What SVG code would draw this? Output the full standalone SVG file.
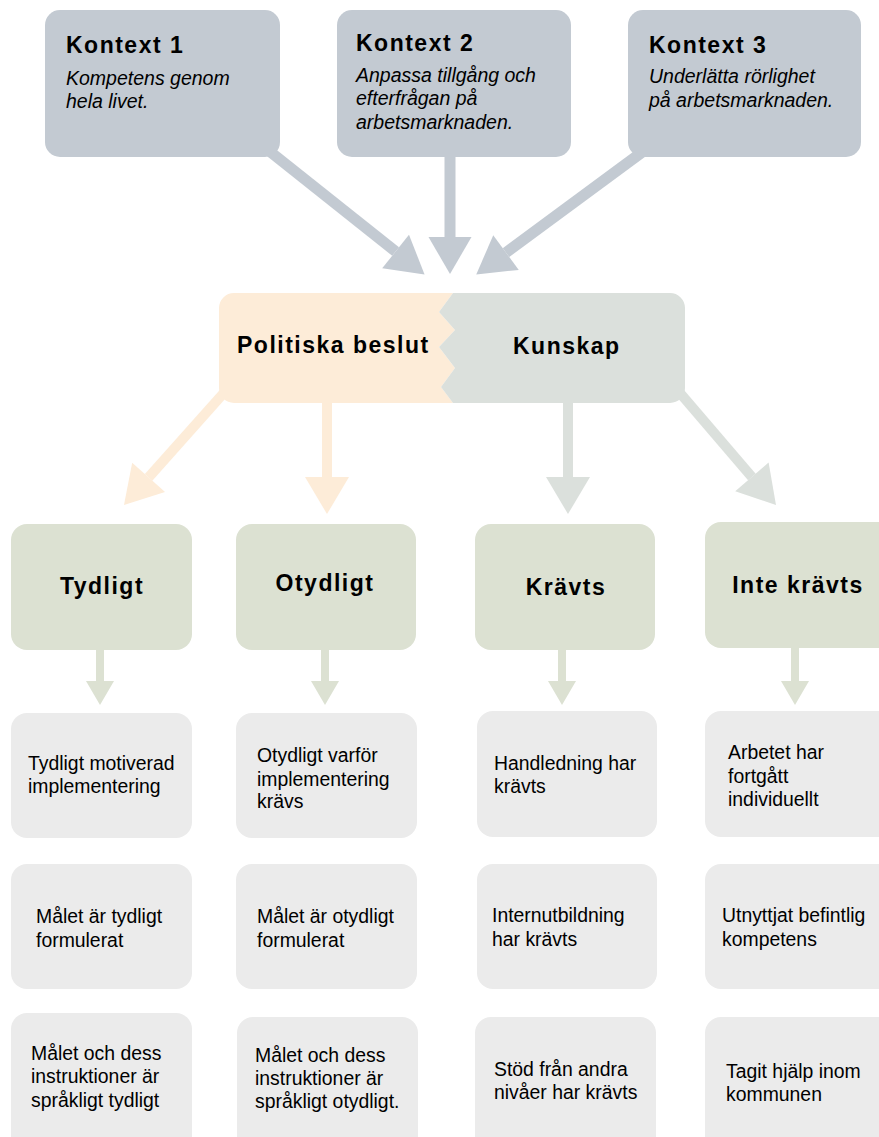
<svg xmlns="http://www.w3.org/2000/svg" width="879" height="1137" viewBox="0 0 879 1137">
<style>
text{font-family:"Liberation Sans",Arial,Helvetica,sans-serif;fill:#000}
.t{font-size:23px;font-weight:bold;letter-spacing:1.5px}
.i{font-size:19.5px;font-style:italic}
.r{font-size:19.4px}
.ctx{fill:#c3cad2}
.l2{fill:#dce1d2}
.l3{fill:#ebebeb}
.ac{stroke:#c3cad2;stroke-width:11;fill:none}
.ap{stroke:#fdecd8;stroke-width:10;fill:none}
.ag{stroke:#dbe0dc;stroke-width:10;fill:none}
.as{stroke:#dce1d2;stroke-width:8;fill:none}
</style>
<defs>
<marker id="mc" markerUnits="userSpaceOnUse" markerWidth="38" markerHeight="44" refX="0" refY="21.5" orient="auto" overflow="visible"><path d="M0,0 L37,21.5 L0,43 Z" fill="#c3cad2"/></marker>
<marker id="mp" markerUnits="userSpaceOnUse" markerWidth="38" markerHeight="44" refX="0" refY="22" orient="auto" overflow="visible"><path d="M0,0 L37,22 L0,44 Z" fill="#fdecd8"/></marker>
<marker id="mg" markerUnits="userSpaceOnUse" markerWidth="38" markerHeight="44" refX="0" refY="22" orient="auto" overflow="visible"><path d="M0,0 L37,22 L0,44 Z" fill="#dbe0dc"/></marker>
<marker id="ms" markerUnits="userSpaceOnUse" markerWidth="25" markerHeight="28" refX="0" refY="14" orient="auto" overflow="visible"><path d="M0,0 L24,14 L0,28 Z" fill="#dce1d2"/></marker>
</defs>
<g id="connectors">
<line class="ac" x1="268" y1="150" x2="395.6" y2="251.5" marker-end="url(#mc)"/>
<line class="ac" x1="450" y1="150" x2="450" y2="237" marker-end="url(#mc)"/>
<line class="ac" x1="645" y1="150" x2="506" y2="252.6" marker-end="url(#mc)"/>
<line class="ap" x1="230" y1="386" x2="148.6" y2="477.4" marker-end="url(#mp)"/>
<line class="ap" x1="327" y1="398" x2="327" y2="477" marker-end="url(#mp)"/>
<line class="ag" x1="568" y1="398" x2="568" y2="477" marker-end="url(#mg)"/>
<line class="ag" x1="674" y1="386" x2="751.9" y2="476.9" marker-end="url(#mg)"/>
<line class="as" x1="100" y1="645" x2="100" y2="681" marker-end="url(#ms)"/>
<line class="as" x1="325" y1="645" x2="325" y2="681" marker-end="url(#ms)"/>
<line class="as" x1="562" y1="645" x2="562" y2="681" marker-end="url(#ms)"/>
<line class="as" x1="795" y1="643" x2="795" y2="681" marker-end="url(#ms)"/>
</g>
<g id="kontext1"><rect class="ctx" x="45" y="10" width="235" height="147" rx="15"/>
<text class="t" x="66" y="53">Kontext 1</text>
<text class="i" x="66" y="85">Kompetens genom</text>
<text class="i" x="66" y="108">hela livet.</text></g>
<g id="kontext2"><rect class="ctx" x="337" y="10" width="234" height="147" rx="15"/>
<text class="t" x="356" y="51">Kontext 2</text>
<text class="i" x="356" y="82">Anpassa tillgång och</text>
<text class="i" x="356" y="105">efterfrågan på</text>
<text class="i" x="356" y="129">arbetsmarknaden.</text></g>
<g id="kontext3"><rect class="ctx" x="628" y="10" width="233" height="147" rx="15"/>
<text class="t" x="649" y="53">Kontext 3</text>
<text class="i" x="649" y="83">Underlätta rörlighet</text>
<text class="i" x="649" y="107">på arbetsmarknaden.</text></g>
<g id="politiska-beslut">
<path d="M453,293 L234,293 A15,15 0 0 0 219,308 L219,388 A15,15 0 0 0 234,403 L453,403 L441,387 L455,368 L439,347 L455,330 L439,312 Z" fill="#fdecd8"/>
<text class="t" x="237" y="353">Politiska beslut</text></g>
<g id="kunskap">
<path d="M453,293 L670,293 A15,15 0 0 1 685,308 L685,388 A15,15 0 0 1 670,403 L453,403 L441,387 L455,368 L439,347 L455,330 L439,312 Z" fill="#dbe0dc"/>
<text class="t" x="513" y="354">Kunskap</text></g>
<g id="tydligt"><rect class="l2" x="11" y="524" width="181" height="126" rx="16"/>
<text class="t" x="102" y="594" text-anchor="middle">Tydligt</text></g>
<g id="otydligt"><rect class="l2" x="236" y="524" width="180" height="126" rx="16"/>
<text class="t" x="325" y="591" text-anchor="middle">Otydligt</text></g>
<g id="kravts"><rect class="l2" x="475" y="524" width="180" height="126" rx="16"/>
<text class="t" x="566" y="595" text-anchor="middle">Krävts</text></g>
<g id="inte-kravts"><rect class="l2" x="705" y="522" width="190" height="126" rx="16"/>
<text class="t" x="798" y="593" text-anchor="middle">Inte krävts</text></g>
<g id="c1r1"><rect class="l3" x="11" y="713" width="181" height="125" rx="16"/>
<text class="r" x="28" y="770">Tydligt motiverad</text><text class="r" x="28" y="793">implementering</text></g>
<g id="c1r2"><rect class="l3" x="11" y="864" width="181" height="125" rx="16"/>
<text class="r" x="36" y="923">Målet är tydligt</text><text class="r" x="36" y="947">formulerat</text></g>
<g id="c1r3"><rect class="l3" x="11" y="1013" width="181" height="140" rx="16"/>
<text class="r" x="31" y="1060">Målet och dess</text><text class="r" x="31" y="1083">instruktioner är</text><text class="r" x="31" y="1107">språkligt tydligt</text></g>
<g id="c2r1"><rect class="l3" x="236" y="713" width="181" height="125" rx="16"/>
<text class="r" x="257" y="762">Otydligt varför</text><text class="r" x="257" y="786">implementering</text><text class="r" x="257" y="808">krävs</text></g>
<g id="c2r2"><rect class="l3" x="236" y="864" width="181" height="125" rx="16"/>
<text class="r" x="257" y="923">Målet är otydligt</text><text class="r" x="257" y="947">formulerat</text></g>
<g id="c2r3"><rect class="l3" x="237" y="1017" width="181" height="140" rx="16"/>
<text class="r" x="255" y="1062">Målet och dess</text><text class="r" x="255" y="1085">instruktioner är</text><text class="r" x="255" y="1108">språkligt otydligt.</text></g>
<g id="c3r1"><rect class="l3" x="477" y="711" width="180" height="126" rx="16"/>
<text class="r" x="494" y="770">Handledning har</text><text class="r" x="494" y="793">krävts</text></g>
<g id="c3r2"><rect class="l3" x="477" y="864" width="180" height="125" rx="16"/>
<text class="r" x="492" y="922">Internutbildning</text><text class="r" x="492" y="946">har krävts</text></g>
<g id="c3r3"><rect class="l3" x="475" y="1017" width="181" height="140" rx="16"/>
<text class="r" x="494" y="1076">Stöd från andra</text><text class="r" x="494" y="1099">nivåer har krävts</text></g>
<g id="c4r1"><rect class="l3" x="705" y="711" width="190" height="126" rx="16"/>
<text class="r" x="728" y="759">Arbetet har</text><text class="r" x="728" y="783">fortgått</text><text class="r" x="728" y="806">individuellt</text></g>
<g id="c4r2"><rect class="l3" x="705" y="864" width="190" height="125" rx="16"/>
<text class="r" x="722" y="922">Utnyttjat befintlig</text><text class="r" x="722" y="946">kompetens</text></g>
<g id="c4r3"><rect class="l3" x="705" y="1017" width="190" height="140" rx="16"/>
<text class="r" x="726" y="1078">Tagit hjälp inom</text><text class="r" x="726" y="1101">kommunen</text></g>
</svg>
